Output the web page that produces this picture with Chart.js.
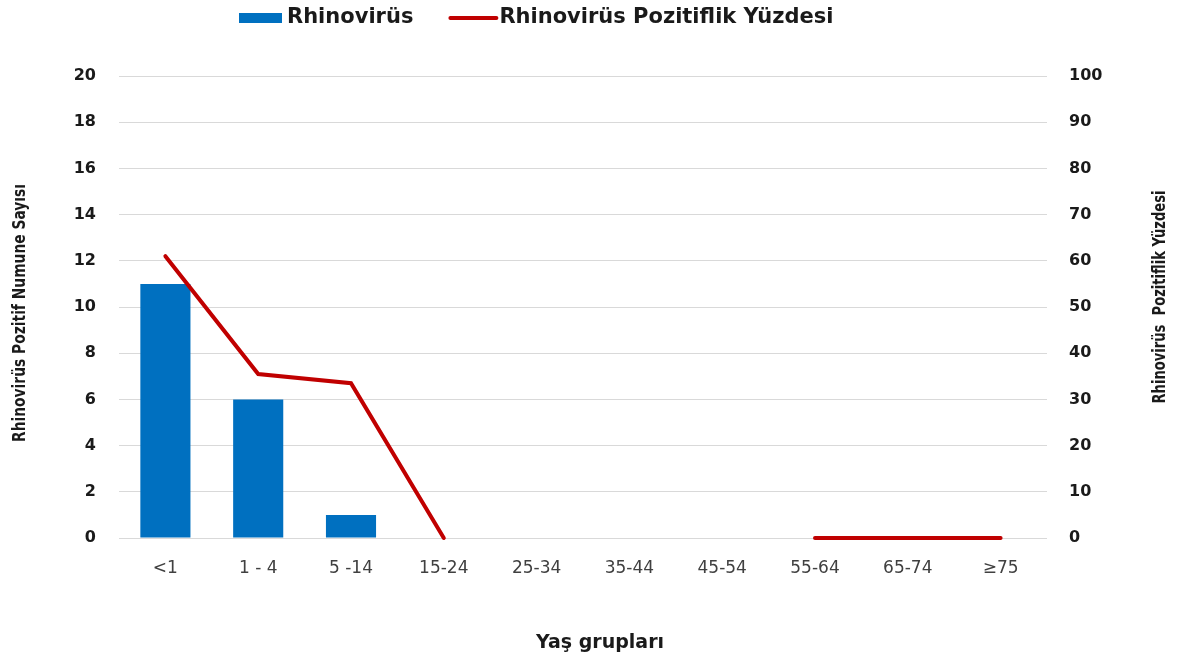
<!DOCTYPE html>
<html lang="tr">
<head>
    <meta charset="UTF-8">
    <title>Rhinovirüs</title>
    <script src="https://cdn.jsdelivr.net/npm/chart.js"></script>
    <style>
        body {
            margin: 0;
            background: #fff;
        }
        #wrap {
            width: 1179px;
            height: 657px;
        }
    </style>
</head>
<body>
    <div id="wrap">
        <canvas id="rhinoChart" width="1179" height="657"></canvas>
    </div>

    <script>
        // data
        const ageGroups = ['<1', '1 - 4', '5 -14', '15-24', '25-34', '35-44', '45-54', '55-64', '65-74', '≥75'];
        const positiveCounts = [11, 6, 1, 0, 0, 0, 0, 0, 0, 0];
        const positivePercent = [61, 35.5, 33.5, 0, null, null, null, 0, 0, 0];

        const barLabel = 'Rhinovirüs';
        const lineLabel = 'Rhinovirüs Pozitiflik Yüzdesi';
        const leftTitle = 'Rhinovirüs Pozitif Numune Sayısı';
        const rightTitle = 'Rhinovirüs  Pozitiflik Yüzdesi';
        const xTitle = 'Yaş grupları';

        const blue = '#0070C0';
        const red = '#C00000';
        const narrowFont = '"Liberation Sans Narrow", "DejaVu Sans Condensed", sans-serif';

        // the original titles use a tall, narrow face: draw at full height and squeeze along the text
        function drawRotated(ctx, text, cx, cy, length) {
            ctx.font = 'bold 18px ' + narrowFont;
            const w = ctx.measureText(text).width;
            ctx.save();
            ctx.translate(cx, cy);
            ctx.rotate(-Math.PI / 2);
            ctx.scale(Math.min(1, length / w), 1);
            ctx.fillText(text, 0, 0);
            ctx.restore();
        }

        // legend + axis titles drawn by hand so they sit where the original has them
        const titlesPlugin = {
            id: 'titles',
            afterDraw(chart) {
                const ctx = chart.ctx;
                const ds = chart.data.datasets;
                ctx.save();

                // legend
                ctx.font = 'bold 21px "DejaVu Sans", sans-serif';
                ctx.textBaseline = 'middle';
                ctx.textAlign = 'left';
                let x = 239;
                const ly = 18;
                const barDs = ds.find(d => d.type === 'bar');
                const lineDs = ds.find(d => d.type === 'line');
                ctx.fillStyle = barDs.backgroundColor;
                ctx.fillRect(x, 13, 43, 10);
                x += 48;
                ctx.fillStyle = '#1a1a1a';
                ctx.fillText(barDs.label, x, ly);
                x += ctx.measureText(barDs.label).width + 37;
                ctx.strokeStyle = lineDs.borderColor;
                ctx.lineWidth = 4;
                ctx.lineCap = 'round';
                ctx.beginPath();
                ctx.moveTo(x, ly);
                ctx.lineTo(x + 46, ly);
                ctx.stroke();
                x += 49;
                ctx.fillText(lineDs.label, x, ly);

                // y titles
                ctx.textAlign = 'center';
                drawRotated(ctx, leftTitle, 20, 313, 258);
                drawRotated(ctx, rightTitle, 1160, 297, 213);

                // x title
                ctx.font = 'bold 19px "DejaVu Sans", sans-serif';
                ctx.fillText(xTitle, 600, 643);
                ctx.restore();
            }
        };

        const ctx = document.getElementById('rhinoChart').getContext('2d');
        new Chart(ctx, {
            data: {
                labels: ageGroups,
                datasets: [
                    {
                        type: 'line',
                        label: lineLabel,
                        data: positivePercent,
                        yAxisID: 'yRight',
                        borderColor: red,
                        backgroundColor: red,
                        borderWidth: 4,
                        borderCapStyle: 'round',
                        pointRadius: 0,
                        tension: 0,
                        spanGaps: false,
                        clip: 6,
                        order: 1
                    },
                    {
                        type: 'bar',
                        label: barLabel,
                        data: positiveCounts,
                        yAxisID: 'y',
                        backgroundColor: blue,
                        barPercentage: 0.54,
                        categoryPercentage: 1,
                        order: 2
                    }
                ]
            },
            options: {
                responsive: false,
                animation: false,
                layout: {
                    padding: { top: 76, bottom: 0, left: 0, right: 0 }
                },
                scales: {
                    x: {
                        grid: { display: false },
                        border: { display: false },
                        ticks: {
                            padding: 12,
                            color: '#404040',
                            font: { family: '"DejaVu Sans", sans-serif', size: 17 },
                            maxRotation: 0,
                            autoSkip: false
                        },
                        afterFit(scale) { scale.height = 119; }
                    },
                    y: {
                        position: 'left',
                        min: 0,
                        max: 20,
                        ticks: {
                            stepSize: 2,
                            padding: 23,
                            color: '#1a1a1a',
                            font: { family: '"DejaVu Sans", sans-serif', size: 16, weight: 'bold' }
                        },
                        grid: { color: '#d9d9d9', lineWidth: 1, drawTicks: false },
                        border: { display: false },
                        afterFit(scale) { scale.width = 119; }
                    },
                    yRight: {
                        position: 'right',
                        min: 0,
                        max: 100,
                        ticks: {
                            stepSize: 10,
                            padding: 22,
                            color: '#1a1a1a',
                            font: { family: '"DejaVu Sans", sans-serif', size: 16, weight: 'bold' }
                        },
                        grid: { display: false, drawTicks: false },
                        border: { display: false },
                        afterFit(scale) { scale.width = 132; }
                    }
                },
                plugins: {
                    legend: { display: false },
                    tooltip: { enabled: false }
                }
            },
            plugins: [titlesPlugin]
        });
    </script>
</body>
</html>
